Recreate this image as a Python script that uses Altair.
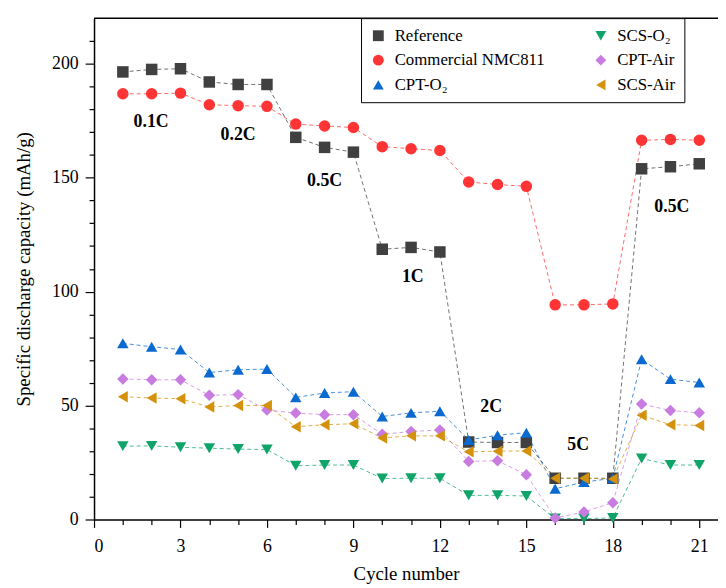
import altair as alt
import pandas as pd

cycles = list(range(1, 22))
series_names = ["Reference", "Commercial NMC811", "CPT-O₂", "SCS-O₂", "CPT-Air", "SCS-Air"]

reference = [196.4, 197.5, 197.8, 192.0, 190.9, 190.9, 167.7, 163.3, 161.2, 118.6, 119.4, 117.4,
             34.0, 33.8, 33.8, 18.1, 18.1, 18.1, 153.9, 154.8, 156.1]
nmc811 = [186.8, 186.8, 187.1, 182.0, 181.6, 181.3, 173.5, 172.7, 172.0, 163.6, 162.7, 161.9,
          148.1, 147.0, 146.2, 94.2, 94.2, 94.6, 166.4, 166.8, 166.4]
cpt_o2 = [77.3, 75.8, 74.6, 64.5, 65.7, 66.0, 53.6, 55.5, 56.1, 45.2, 46.8, 47.5,
          34.9, 37.0, 38.1, 13.5, 16.4, 18.1, 70.3, 61.6, 60.1]
scs_o2 = [32.2, 32.3, 31.7, 31.3, 30.9, 30.7, 23.6, 23.9, 23.9, 18.0, 18.1, 18.1,
          10.6, 10.6, 10.3, 0.4, 0.4, 0.7, 26.8, 23.9, 23.9]
cpt_air = [61.7, 61.3, 61.3, 54.5, 54.8, 48.0, 46.7, 46.0, 46.0, 37.4, 38.6, 39.3,
           25.5, 25.8, 19.6, 0.7, 3.3, 7.4, 50.7, 47.8, 46.8]
scs_air = [53.9, 53.3, 53.0, 49.4, 50.0, 50.0, 40.7, 41.6, 42.0, 35.8, 36.7, 36.7,
           29.7, 30.0, 30.1, 18.1, 18.1, 17.8, 45.7, 41.6, 41.3]

rate_labels = ["0.1C", "0.2C", "0.5C", "1C", "2C", "5C", "0.5C"]
rate_x = [1.98, 5.0, 8.0, 11.06, 13.78, 16.8, 20.05]
rate_y = [174.6, 168.6, 148.7, 106.5, 49.4, 32.6, 137.0]

marker_colors = ["#404040", "#ff3535", "#0a6ad0", "#10a468", "#c87ce0", "#d4920c"]
shapes = ["square", "circle", "triangle-up", "triangle-down", "diamond", "triangle-left"]

all_values = [reference, nmc811, cpt_o2, scs_o2, cpt_air, scs_air]
rows = []
for idx, (name, vals) in enumerate(zip(series_names, all_values)):
    for c, v in zip(cycles, vals):
        rows.append({"series": name, "order": idx, "cycle": c, "value": v})
df = pd.DataFrame(rows)
ann = pd.DataFrame({"label": rate_labels, "cycle": rate_x, "value": rate_y})

FONT = "Liberation Serif"
W, H = 631, 507

x_scale = alt.Scale(domain=[0, 21.65], nice=False, zero=False)
y_scale = alt.Scale(domain=[0, 220], nice=False)

x_axis = alt.Axis(
    values=list(range(0, 22)),
    labelExpr="datum.value % 3 === 0 ? datum.label : ''",
    tickSize={"condition": {"test": "datum.value % 3 === 0", "value": 8}, "value": 5},
    labelOverlap=False, labelBound=False,
    title="Cycle number", grid=False, labelPadding=10, titlePadding=10,
)
y_axis = alt.Axis(
    values=list(range(0, 220, 10)),
    labelExpr="datum.value % 50 === 0 ? datum.label : ''",
    tickSize={"condition": {"test": "datum.value % 50 === 0", "value": 9}, "value": 5},
    labelOverlap=False, labelBound=False,
    title="Specific discharge capacity (mAh/g)", grid=False, labelPadding=7, titlePadding=18,
)

color_scale = alt.Scale(domain=series_names, range=marker_colors)
legend = alt.Legend(title=None, orient="none", legendX=270, legendY=0, columns=2,
                    strokeColor="black", fillColor="white", padding=9,
                    labelFont=FONT, labelFontSize=17, symbolSize=120,
                    columnPadding=48, rowPadding=7, labelOffset=8,
                    symbolOpacity=1, symbolStrokeWidth=0, labelColor="black")

base = alt.Chart(df)

lines = base.mark_line(strokeDash=[4, 3], strokeWidth=1, opacity=0.75).encode(
    x=alt.X("cycle:Q", scale=x_scale, axis=x_axis),
    y=alt.Y("value:Q", scale=y_scale, axis=y_axis),
    color=alt.Color("series:N", sort=series_names, scale=color_scale, legend=legend),
    detail="series:N",
)

points = base.mark_point(filled=True, opacity=1, size=135, strokeWidth=0).encode(
    x=alt.X("cycle:Q", scale=x_scale, axis=x_axis),
    y=alt.Y("value:Q", scale=y_scale, axis=y_axis),
    color=alt.Color("series:N", sort=series_names, scale=color_scale, legend=legend),
    shape=alt.Shape("series:N", sort=series_names,
                    scale=alt.Scale(domain=series_names, range=shapes), legend=legend),
    order=alt.Order("order:Q"),
)

texts = alt.Chart(ann).mark_text(font=FONT, fontSize=18, fontWeight="bold", color="black").encode(
    x=alt.X("cycle:Q", scale=x_scale, axis=x_axis),
    y=alt.Y("value:Q", scale=y_scale, axis=y_axis),
    text="label:N",
)

top_border = alt.Chart(alt.Data(values=[{}])).mark_rule(color="black", strokeWidth=1.5).encode(
    x=alt.value(0), x2=alt.value(W), y=alt.value(0)
)

chart = alt.layer(lines, points, texts, top_border).properties(
    width=W, height=H,
    autosize=alt.AutoSizeParams(type="none"),
    padding={"left": 87, "top": 7, "right": 0, "bottom": 66},
).configure_view(stroke=None).configure_axis(
    domainColor="black", domainWidth=1.5, tickColor="black", tickWidth=1.2,
    labelFont=FONT, labelFontSize=18, labelColor="black", labelOverlap=False,
    titleFont=FONT, titleFontSize=19, titleFontWeight="normal", titleColor="black",
)

chart.save("out.html", embed_options={"renderer": "svg", "actions": False})
